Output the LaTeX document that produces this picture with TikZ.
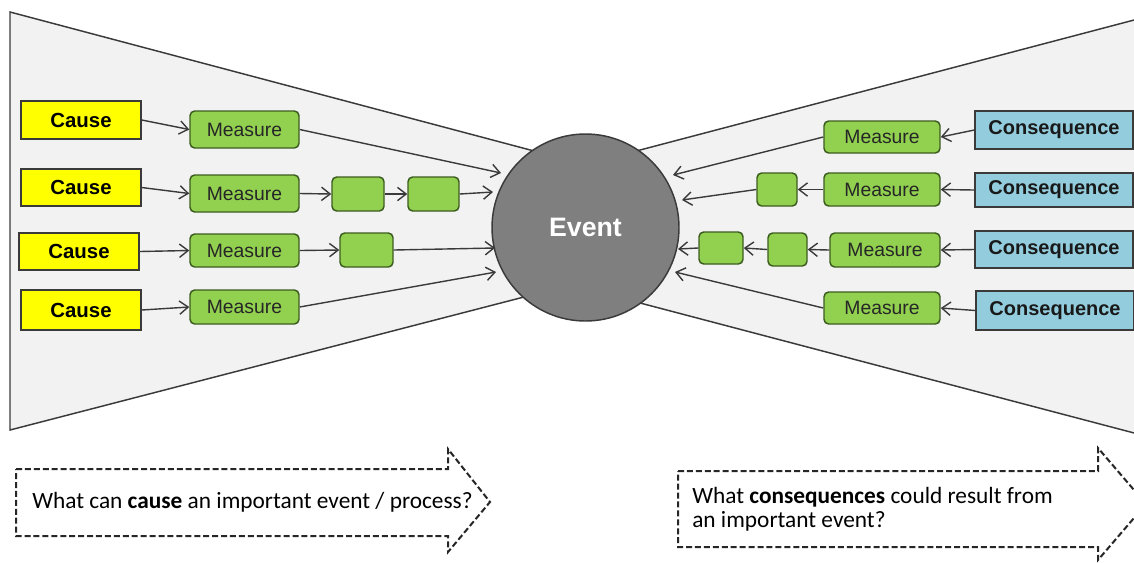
\documentclass[tikz,border=0pt]{standalone}
\usepackage{fontspec}
\setmainfont{Liberation Sans}
\newfontfamily\calib{Carlito}
\usetikzlibrary{arrows.meta}
\definecolor{funnel}{HTML}{F2F2F2}
\definecolor{edge}{HTML}{3A3A3A}
\definecolor{causeY}{HTML}{FFFF00}
\definecolor{measG}{HTML}{92D050}
\definecolor{measB}{HTML}{3D5C1F}
\definecolor{consB}{HTML}{93CDDD}
\definecolor{evG}{HTML}{7F7F7F}
\begin{document}
\begin{tikzpicture}[x=0.75pt,y=-0.75pt,
  sz/.style 2 args={minimum width=#1*0.75pt, minimum height=#2*0.75pt},
  causebox/.style={draw=edge, fill=causeY, line width=1.1pt, inner sep=0pt,
    font=\fontsize{15.3}{18}\selectfont\bfseries},
  measbox/.style={draw=measB, fill=measG, rounded corners=3.5pt, line width=1.1pt,
    inner sep=0pt, font=\fontsize{14.5}{17}\selectfont, text=black!85},
  consbox/.style={draw=edge, fill=consB, line width=1.1pt, inner sep=0pt,
    font=\fontsize{15}{18}\selectfont\bfseries, text=black!90},
  conn/.style={draw=edge, line width=1.05pt,
    -{Straight Barb[length=6.5pt,width=10pt,line width=1.05pt]}},
  hint/.style={draw=black!85, line width=1.5pt, dash pattern=on 4.5pt off 2.2pt, fill=white},
  qtext/.style={anchor=base west, inner sep=0pt, font=\calib\fontsize{17.5}{21}\selectfont},
]
\useasboundingbox (0,0) rectangle (1134,562);
\clip (0,0) rectangle (1134,562);

% funnels
\filldraw[fill=funnel, draw=edge, line width=1.1pt]
  (10,12) -- (585,164.5) -- (585,281.2) -- (10,430) -- cycle;
\filldraw[fill=funnel, draw=edge, line width=1.1pt]
  (585,164.5) -- (1220,-2.6) -- (1220,455.6) -- (585,288.5) -- cycle;

% event
\node[circle, draw=edge, fill=evG, line width=1.1pt, minimum size=187*0.75pt, inner sep=0pt,
  text=white, font=\fontsize{20}{24}\selectfont\bfseries] (event) at (585.5,227.5) {Event};

% causes
\node[causebox, sz={120}{38}] (c1) at (81,120) {Cause};
\node[causebox, sz={120}{37}] (c2) at (81,187.5) {Cause};
\node[causebox, sz={120}{37}] (c3) at (79,251.5) {Cause};
\node[causebox, sz={120}{40}] (c4) at (81,310) {Cause};

% left measures
\node[measbox, sz={109}{37}] (m1) at (244.5,129.5) {Measure};
\node[measbox, sz={109}{37}] (m2) at (244.5,193.5) {Measure};
\node[measbox, sz={109}{33}] (m3) at (244.5,250.5) {Measure};
\node[measbox, sz={109}{34}] (m4) at (244.5,307) {Measure};
\node[measbox, sz={52}{34}] (s2a) at (358,194) {};
\node[measbox, sz={51}{34}] (s2b) at (433.5,194) {};
\node[measbox, sz={53}{34}] (s3) at (366.5,250) {};

% right measures
\node[measbox, sz={116}{32}] (r1) at (882,137) {Measure};
\node[measbox, sz={116}{33}] (r2) at (882,189.5) {Measure};
\node[measbox, sz={110}{34}] (r3) at (885,250) {Measure};
\node[measbox, sz={116}{32}] (r4) at (882,308) {Measure};
\node[measbox, sz={40}{33}] (q2s) at (777,189.5) {};
\node[measbox, sz={44}{32}] (q3a) at (721,248) {};
\node[measbox, sz={39}{33}] (q3b) at (787.5,249.5) {};

% consequences
\node[consbox, sz={158}{38}] (k1) at (1054,130) {Consequence};
\node[consbox, sz={158}{34}] (k2) at (1054,190) {Consequence};
\node[consbox, sz={158}{37}] (k3) at (1054,249.5) {Consequence};
\node[consbox, sz={158}{39}] (k4) at (1055,310.5) {Consequence};

% arrow tips near the event
\coordinate (tl1) at (501,173);
\coordinate (tl2) at (493,192);
\coordinate (tl3) at (495,248);
\coordinate (tl4) at (496,272);
\coordinate (tr1) at (673,175);
\coordinate (tr2) at (682,200);
\coordinate (tr3) at (678,249);
\coordinate (tr4) at (675,272);

% left connectors
\draw[conn] (c1.east) -- (m1.west);
\draw[conn] (c2.east) -- (m2.west);
\draw[conn] (c3.east) -- (m3.west);
\draw[conn] (c4.east) -- (m4.west);
\draw[conn] (m1.east) -- (tl1);
\draw[conn] (m2.east) -- (s2a.west);
\draw[conn] (s2a.east) -- (s2b.west);
\draw[conn] (s2b.east) -- (tl2);
\draw[conn] (m3.east) -- (s3.west);
\draw[conn] (s3.east) -- (tl3);
\draw[conn] (m4.east) -- (tl4);

% right connectors
\draw[conn] (k1.west) -- (r1.east);
\draw[conn] (k2.west) -- (r2.east);
\draw[conn] (k3.west) -- (r3.east);
\draw[conn] (k4.west) -- (r4.east);
\draw[conn] (r1.west) -- (tr1);
\draw[conn] (r2.west) -- (q2s.east);
\draw[conn] (q2s.west) -- (tr2);
\draw[conn] (r3.west) -- (q3b.east);
\draw[conn] (q3b.west) -- (q3a.east);
\draw[conn] (q3a.west) -- (tr3);
\draw[conn] (r4.west) -- (tr4);

% question arrows
\draw[hint] (16,469) -- (448,469) -- (448,449) -- (490,502) -- (448,552) -- (448,536) -- (16,536) -- cycle;
\draw[hint] (678,471) -- (1098,471) -- (1098,448) -- (1146,504) -- (1098,560) -- (1098,547) -- (678,547) -- cycle;

\node[qtext] (qa) at (32,508) {What can \textbf{cause} an important event / process?};
\node[qtext] (qb1) at (692,503) {What \textbf{consequences} could result from};
\node[qtext] (qb2) at (692,527) {an important event?};
\end{tikzpicture}
\end{document}
